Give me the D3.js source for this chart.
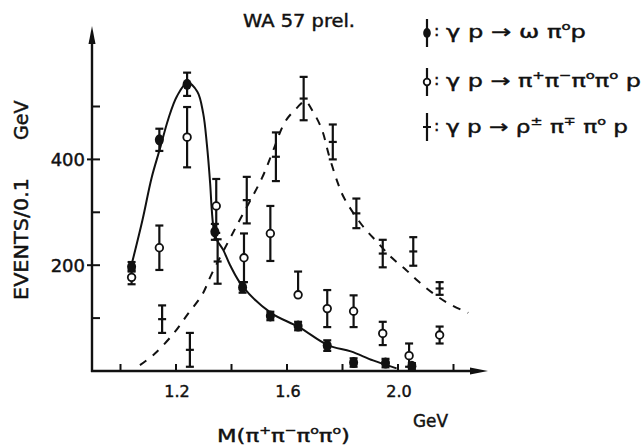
<!DOCTYPE html>
<html>
<head>
<meta charset="utf-8">
<script src="https://cdn.jsdelivr.net/npm/d3@7"></script>
<style>
  html, body { margin: 0; padding: 0; background: #fff; }
  svg { display: block; }
  text { font-family: "DejaVu Sans", sans-serif; fill: #111; stroke: #111; stroke-width: 0.45px; }
</style>
</head>
<body>
<div id="chart"></div>
<script>
// ---- data ----
const omegaX   = [1.04, 1.14, 1.24, 1.34, 1.44, 1.54, 1.64, 1.745, 1.84, 1.955, 2.05];
const omegaY   = [197, 437, 542, 263, 158, 104, 85, 48, 16, 15, 9];
const omegaErr = [9, 21, 22, 15, 10, 8, 8, 10, 8, 8, 6];

const fourPiX     = [1.04, 1.14, 1.24, 1.345, 1.445, 1.54, 1.64, 1.745, 1.84, 1.945, 2.04, 2.15];
const fourPiY     = [177, 233, 442, 312, 214, 260, 144, 118, 113, 71, 29, 68];
const fourPiErrUp = [13, 42, 57, 51, 46, 52, 44, 35, 30, 22, 23, 16];
const fourPiErrDn = [13, 42, 57, 51, 46, 52, 0, 35, 30, 22, 21, 16];

const rhoX   = [1.15, 1.25, 1.35, 1.455, 1.56, 1.66, 1.765, 1.85, 1.945, 2.055, 2.15];
const rhoY   = [98, 40, 207, 323, 405, 515, 433, 298, 222, 226, 156];
const rhoErr = [26, 32, 42, 44, 46, 41, 33, 28, 26, 27, 12];

// fitted curves (hand-drawn in the original)
const omegaCurveX = [1.038, 1.079, 1.112, 1.142, 1.172, 1.203, 1.241, 1.277, 1.298, 1.311, 1.323, 1.329, 1.336, 1.347, 1.370, 1.395, 1.44, 1.542, 1.643, 1.747, 1.83, 1.91, 1.995];
const omegaCurveY = [197, 285, 365, 420, 476, 519, 545, 528, 487, 430, 355, 304, 268, 248, 229, 200, 160, 110, 83, 49, 37, 20, 5];

const rhoCurveX = [1.07, 1.124, 1.193, 1.243, 1.294, 1.33, 1.42, 1.51, 1.551, 1.593, 1.635, 1.665, 1.694, 1.726, 1.75, 1.78, 1.805, 1.87, 1.928, 1.978, 2.029, 2.072, 2.126, 2.184, 2.253];
const rhoCurveY = [11, 33, 72, 108, 144, 185, 276, 365, 418, 471, 497, 510, 490, 456, 410, 360, 328, 276, 242, 214, 191, 170, 147, 127, 110];

const xTicks = [1.0, 1.2, 1.4, 1.6, 1.8, 2.0, 2.2];
const xTickLabels = ["", "1.2", "", "1.6", "", "2.0", ""];
const yTicks = [100, 200, 300, 400, 500];
const yTickLabels = ["", "200", "", "400", ""];

const titleText = "WA 57 prel.";
const xLabelText = [["M(π", false], ["+", true], ["π", false], ["−", true], ["π", false], ["o", true], ["π", false], ["o", true], [")", false]];
const xUnitText = "GeV";
const yLabelText = "EVENTS/0.1";
const yUnitText = "GeV";

const legendLabels = [
  [["γ p → ω π", false], ["o", true], ["p", false]],
  [["γ p → π", false], ["+", true], ["π", false], ["−", true], ["π", false], ["o", true], ["π", false], ["o", true], [" p", false]],
  [["γ p → ρ", false], ["±", true], [" π", false], ["∓", true], [" π", false], ["o", true], [" p", false]]
];
const legendKinds = ["filled", "open", "cross"];

// ---- layout ----
const W = 643, H = 447;
const svg = d3.select("#chart").append("svg").attr("width", W).attr("height", H);
const x = d3.scaleLinear().domain([1.0, 2.0]).range([120.5, 398]);
const y = d3.scaleLinear().domain([0, 400]).range([371, 159.4]);
const axisX0 = 92;
const ink = "#111";

// axes
svg.append("line").attr("x1", axisX0).attr("x2", axisX0).attr("y1", y(0) + 1).attr("y2", 40)
  .attr("stroke", ink).attr("stroke-width", 2.4);
svg.append("path").attr("d", `M${axisX0 - 3.5},44 L${axisX0},26 L${axisX0 + 3.5},44 Z`).attr("fill", ink);
svg.append("line").attr("x1", axisX0 - 1).attr("x2", 474).attr("y1", y(0)).attr("y2", y(0))
  .attr("stroke", ink).attr("stroke-width", 2.4);
svg.append("path").attr("d", `M470,${y(0) - 3.5} L488,${y(0)} L470,${y(0) + 3.5} Z`).attr("fill", ink);

// x ticks
svg.selectAll(".xt").data(xTicks).enter().append("line")
  .attr("x1", d => x(d)).attr("x2", d => x(d)).attr("y1", y(0)).attr("y2", y(0) - 7)
  .attr("stroke", ink).attr("stroke-width", 2);
svg.selectAll(".xtl").data(xTicks).enter().append("text")
  .attr("x", d => x(d) + 1).attr("y", 397).attr("text-anchor", "middle")
  .attr("font-size", 16).text((d, i) => xTickLabels[i]);

// y ticks
svg.selectAll(".yt").data(yTicks).enter().append("line")
  .attr("x1", (d, i) => yTickLabels[i] ? axisX0 - 5 : axisX0).attr("x2", axisX0 + 8)
  .attr("y1", d => y(d)).attr("y2", d => y(d))
  .attr("stroke", ink).attr("stroke-width", 2);
svg.selectAll(".ytl").data(yTicks).enter().append("text")
  .attr("x", 85).attr("y", d => y(d) + 6.5).attr("text-anchor", "end")
  .attr("font-size", 18).text((d, i) => yTickLabels[i]);

// helper for rich text with superscripts
function rich(sel, parts, size) {
  let raised = false;
  parts.forEach(([t, sup]) => {
    const ts = sel.append("tspan").text(t);
    if (sup) {
      ts.attr("font-size", size * 0.62).attr("dy", raised ? 0 : -size * 0.42);
      raised = true;
    } else {
      ts.attr("dy", raised ? size * 0.42 : 0);
      raised = false;
    }
  });
}

// labels
svg.append("text").attr("x", 243).attr("y", 27).attr("font-size", 18)
  .attr("textLength", 112).attr("lengthAdjust", "spacingAndGlyphs").text(titleText);
const xl = svg.append("text").attr("x", 217).attr("y", 442).attr("font-size", 18)
  .attr("textLength", 133).attr("lengthAdjust", "spacingAndGlyphs");
rich(xl, xLabelText, 18);
svg.append("text").attr("x", 413).attr("y", 427).attr("font-size", 17)
  .attr("textLength", 35).attr("lengthAdjust", "spacingAndGlyphs").text(xUnitText);
svg.append("text").attr("transform", "translate(28,300) rotate(-90)").attr("font-size", 20)
  .attr("textLength", 122).attr("lengthAdjust", "spacingAndGlyphs").text(yLabelText);
svg.append("text").attr("transform", "translate(28,140) rotate(-90)").attr("font-size", 19)
  .text(yUnitText);

// curves
const line = d3.line().x(d => x(d[0])).y(d => y(d[1])).curve(d3.curveCatmullRom.alpha(0.5));
svg.append("path").attr("d", line(d3.zip(omegaCurveX, omegaCurveY)))
  .attr("fill", "none").attr("stroke", ink).attr("stroke-width", 2);
svg.append("path").attr("d", line(d3.zip(rhoCurveX, rhoCurveY)))
  .attr("fill", "none").attr("stroke", ink).attr("stroke-width", 2)
  .attr("stroke-dasharray", "8,8");

// error bars helper
function errBars(xs, ys, up, dn, mid) {
  const g = svg.append("g").attr("stroke", ink).attr("stroke-width", 2.2);
  xs.forEach((xv, i) => {
    const cx = x(xv), top = y(ys[i] + up[i]), bot = y(ys[i] - dn[i]);
    g.append("line").attr("x1", cx).attr("x2", cx).attr("y1", top).attr("y2", bot);
    if (up[i] > 0) g.append("line").attr("x1", cx - 4).attr("x2", cx + 4).attr("y1", top).attr("y2", top);
    if (dn[i] > 0) g.append("line").attr("x1", cx - 4).attr("x2", cx + 4).attr("y1", bot).attr("y2", bot);
    if (mid) g.append("line").attr("x1", cx - 4).attr("x2", cx + 4).attr("y1", y(ys[i])).attr("y2", y(ys[i]));
  });
}

errBars(rhoX, rhoY, rhoErr, rhoErr, true);
errBars(fourPiX, fourPiY, fourPiErrUp, fourPiErrDn, false);
errBars(omegaX, omegaY, omegaErr, omegaErr, false);

svg.selectAll(".open").data(d3.zip(fourPiX, fourPiY)).enter().append("circle")
  .attr("cx", d => x(d[0])).attr("cy", d => y(d[1])).attr("r", 3.8)
  .attr("fill", "#fff").attr("stroke", ink).attr("stroke-width", 1.8);
svg.selectAll(".filled").data(d3.zip(omegaX, omegaY)).enter().append("ellipse")
  .attr("cx", d => x(d[0])).attr("cy", d => y(d[1])).attr("rx", 4.5).attr("ry", 5.5)
  .attr("fill", ink);

// legend
const legY = [33, 82, 127];
const legBase = [38, 87, 133];
const legWidth = [140, 195, 182];
legendKinds.forEach((k, i) => {
  const cx = 427, cy = legY[i];
  svg.append("line").attr("x1", cx).attr("x2", cx).attr("y1", cy - 14).attr("y2", cy + 14)
    .attr("stroke", ink).attr("stroke-width", 2.2);
  if (k === "filled") svg.append("ellipse").attr("cx", cx).attr("cy", cy).attr("rx", 3.8).attr("ry", 5).attr("fill", ink);
  if (k === "open") svg.append("circle").attr("cx", cx).attr("cy", cy).attr("r", 3.3).attr("fill", "#fff").attr("stroke", ink).attr("stroke-width", 1.8);
  if (k === "cross") svg.append("line").attr("x1", cx - 4).attr("x2", cx + 4).attr("y1", cy).attr("y2", cy).attr("stroke", ink).attr("stroke-width", 2);
  svg.append("text").attr("x", 434).attr("y", legBase[i] - 2).attr("font-size", 16).text(":");
  const t = svg.append("text").attr("x", 446).attr("y", legBase[i]).attr("font-size", 18)
    .attr("textLength", legWidth[i]).attr("lengthAdjust", "spacingAndGlyphs");
  rich(t, legendLabels[i], 18);
});
</script>
</body>
</html>
